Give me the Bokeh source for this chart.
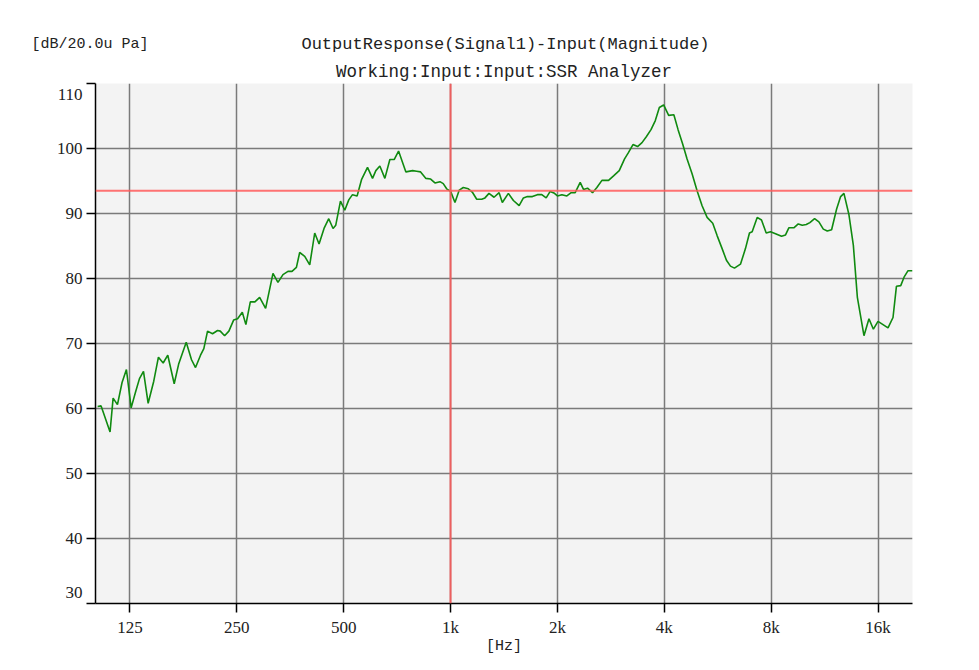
from bokeh.plotting import figure
from bokeh.models import FixedTicker, Span
from bokeh.layouts import column
from bokeh.core.properties import value
from bokeh.embed import file_html
from bokeh.resources import INLINE

# ---- data ----
freq_hz = [
    101.4, 103.7, 109.9, 112.1, 115.3, 118.8, 122.2, 126.0, 129.6, 133.0,
    136.5, 140.7, 145.9, 150.4, 155.1, 159.8, 166.6, 171.6, 180.1, 186.4,
    191.3, 197.6, 201.9, 206.8, 213.6, 220.7, 224.6, 231.0, 237.5, 244.9,
    251.3, 259.1, 265.2, 272.9, 281.2,
    289.9, 301.4, 316.1, 326.5, 337.3, 348.4, 357.6, 368.0, 375.9, 388.4,
    401.2, 414.4, 426.2, 440.2, 453.9, 466.7, 475.0, 489.7, 503.6, 516.8,
    529.4, 545.5, 561.3, 583.6, 602.9, 616.0, 632.2, 653.1, 674.6, 693.7,
    713.8, 748.5, 781.8, 802.4, 823.5, 852.3, 878.8, 903.7, 933.5, 953.7,
    975.0, 1000.7, 1029.0, 1058.2,
    1086, 1122, 1151, 1185, 1224, 1250, 1283, 1326, 1370, 1399,
    1455, 1503, 1560, 1604, 1646, 1700, 1756, 1807, 1859, 1908,
    1962, 2000, 2058, 2126, 2186, 2244, 2318, 2368, 2431, 2511,
    2583, 2669, 2786, 2878, 2986, 3091, 3172, 3264, 3363, 3461,
    3559, 3669, 3773, 3873, 3982, 4114, 4255, 4373,
    4505, 4636, 4789, 4947, 5110, 5279, 5475, 5633, 5819, 5984,
    6142, 6304, 6554, 6770, 6948, 7071, 7305, 7512, 7745, 7964,
    8227, 8554, 8779, 8969, 9265, 9534, 9785, 10043, 10280, 10599,
    10899, 11215, 11511, 11836, 12227, 12549, 12821, 13245, 13629, 13988,
    14600, 15081, 15519, 15990, 16519, 17063, 17626, 18020, 18531, 18933,
    19431, 20000,
]
level_db = [
    60.3, 60.4, 56.4, 61.6, 60.6, 64.0, 66.0, 60.1, 62.5, 64.6,
    65.7, 60.8, 64.2, 67.9, 67.0, 68.2, 63.8, 66.9, 70.2, 67.5,
    66.3, 68.2, 69.2, 71.9, 71.5, 72.0, 71.9, 71.2, 71.9, 73.6,
    73.8, 74.8, 72.9, 76.4, 76.4,
    77.1, 75.4, 80.8, 79.4, 80.6, 81.1, 81.1, 81.7, 84.0, 83.4,
    82.1, 87.0, 85.3, 87.7, 89.2, 87.7, 88.2, 91.9, 90.5, 92.1,
    92.9, 92.7, 95.2, 97.1, 95.4, 96.6, 97.3, 95.4, 98.3, 98.3,
    99.6, 96.4, 96.6, 96.5, 96.4, 95.4, 95.3, 94.7, 94.9, 94.6,
    93.8, 93.4, 91.7, 93.6,
    94.0, 93.8, 93.3, 92.2, 92.2, 92.4, 93.1, 92.5, 93.2, 91.7,
    93.1, 92.0, 91.2, 92.4, 92.6, 92.6, 92.9, 92.9, 92.4, 93.4,
    93.1, 92.7, 92.9, 92.7, 93.2, 93.2, 94.8, 93.7, 93.9, 93.2,
    94.0, 95.1, 95.1, 95.8, 96.6, 98.4, 99.4, 100.6, 100.3, 100.9,
    101.8, 102.9, 104.3, 106.3, 106.7, 105.1, 105.2, 102.9,
    100.7, 98.4, 96.1, 93.5, 91.2, 89.4, 88.5, 86.6, 84.6, 82.8,
    81.9, 81.6, 82.2, 84.6, 87.0, 87.2, 89.4, 89.0, 87.0, 87.2,
    86.9, 86.5, 86.7, 87.8, 87.8, 88.4, 88.2, 88.3, 88.6, 89.2,
    88.7, 87.6, 87.3, 87.5, 90.7, 92.6, 93.1, 89.8, 85.1, 77.1,
    71.2, 73.8, 72.2, 73.4, 72.9, 72.4, 74.0, 78.8, 78.9, 80.2,
    81.2, 81.2,
]
x_ticks = [125, 250, 500, 1000, 2000, 4000, 8000, 16000]
x_tick_labels = ["125", "250", "500", "1k", "2k", "4k", "8k", "16k"]
y_ticks = [30, 40, 50, 60, 70, 80, 90, 100, 110]
cursor_freq = 1000
cursor_level = 93.5
title_line1 = "OutputResponse(Signal1)-Input(Magnitude)"
title_line2 = "Working:Input:Input:SSR Analyzer"
y_unit = "[dB/20.0u Pa]"
x_unit = "[Hz]"

W = 963
HEADER_H = 57
FRAME_L, FRAME_R = 95, 912
MONO = "Liberation Mono"
TXT = "#222222"

# ---- header strip: first title line and the level unit ----
hdr = figure(width=W, height=HEADER_H, x_range=(FRAME_L, FRAME_R), y_range=(0, HEADER_H),
             min_border=0, toolbar_location=None, output_backend="svg",
             x_axis_location=None, y_axis_location="left",
             outline_line_color=None, background_fill_color="white",
             border_fill_color="white")
hdr.grid.visible = False
hdr.text(x=[505], y=[HEADER_H - 44], text=[title_line1],
         text_font=value(MONO), text_font_size="17px", text_color=TXT,
         text_align="center", text_baseline="middle")
hax = hdr.yaxis[0]
hax.ticker = FixedTicker(ticks=[HEADER_H - 44], minor_ticks=[])
hax.major_label_overrides = {HEADER_H - 44: y_unit}
hax.axis_line_color = None
hax.major_tick_line_color = None
hax.minor_tick_line_color = None
hax.major_tick_out = 0
hax.major_tick_in = 0
hax.minor_tick_out = 0
hax.major_label_standoff = -53
hax.major_label_text_font = MONO
hax.major_label_text_font_size = "15px"
hax.major_label_text_color = TXT

# ---- main chart ----
p = figure(
    x_axis_type="log", x_range=(100, 20000), y_range=(30, 110),
    frame_width=FRAME_R - FRAME_L, frame_height=520,
    min_border_left=FRAME_L, min_border_right=W - FRAME_R, min_border_top=83 - HEADER_H,
    min_border_bottom=59,
    output_backend="svg", toolbar_location=None,
    background_fill_color="#f3f3f3", border_fill_color="white",
    outline_line_color=None,
)
p.title.text = title_line2
p.title.align = "center"
p.title.standoff = 4
p.title.text_font = MONO
p.title.text_font_size = "17.5px"
p.title.text_font_style = "normal"
p.title.text_color = TXT

p.xaxis.ticker = FixedTicker(ticks=x_ticks, minor_ticks=[])
p.xaxis.major_label_overrides = {t: l for t, l in zip(x_ticks, x_tick_labels)}
p.yaxis.ticker = FixedTicker(ticks=y_ticks, minor_ticks=[])
# edge labels are drawn inside the frame span, as in the reference
p.yaxis.major_label_overrides = {y_ticks[-1]: "\n" + str(y_ticks[-1]),
                                 y_ticks[0]: str(y_ticks[0]) + "\n"}

p.grid.grid_line_color = "#7a7a7a"
p.grid.grid_line_width = 1.5

for ax in (p.xaxis[0], p.yaxis[0]):
    ax.axis_line_color = "black"
    ax.axis_line_width = 1.5
    ax.major_tick_line_color = "black"
    ax.major_tick_line_width = 1.5
    ax.major_tick_out = 9
    ax.major_tick_in = 0
    ax.minor_tick_out = 0
    ax.minor_tick_in = 0
    ax.major_label_text_font = "Liberation Serif"
    ax.major_label_text_font_size = "17px"
    ax.major_label_text_color = TXT
p.xaxis.major_label_standoff = 5
p.yaxis.major_label_standoff = 4

p.xaxis.axis_label = x_unit
p.xaxis.axis_label_text_font = MONO
p.xaxis.axis_label_text_font_size = "15px"
p.xaxis.axis_label_text_font_style = "normal"
p.xaxis.axis_label_text_color = TXT
p.xaxis.axis_label_standoff = -2

p.line(freq_hz, level_db, line_color="#108a10", line_width=1.6)

p.add_layout(Span(location=cursor_freq, dimension="height",
                  line_color="#ff5a5a", line_width=2, line_alpha=0.85))
p.add_layout(Span(location=cursor_level, dimension="width",
                  line_color="#ff5a5a", line_width=2, line_alpha=0.85))

open("out.html", "w").write(file_html(column(hdr, p), INLINE))
